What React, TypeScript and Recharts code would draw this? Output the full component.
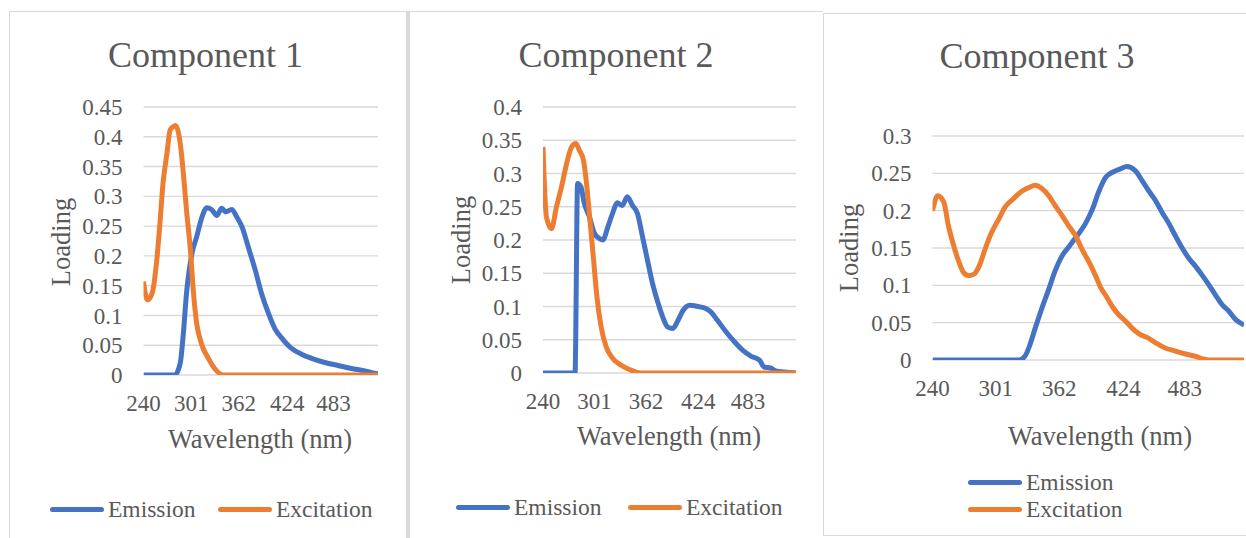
import { CartesianGrid, Line, LineChart, XAxis, YAxis } from 'recharts';

const FONT = '"Liberation Serif", "Times New Roman", serif';
const TEXT = '#595959';
const BLUE = '#4472C4';
const ORANGE = '#ED7D31';
const GRID = '#D9D9D9';

// x tick labels shared by the three panels
const xTicks = [240, 301, 362, 424, 483];
const yTicks1 = [0, 0.05, 0.1, 0.15, 0.2, 0.25, 0.3, 0.35, 0.4, 0.45];
const yTicks2 = [0, 0.05, 0.1, 0.15, 0.2, 0.25, 0.3, 0.35, 0.4];
const yTicks3 = [0, 0.05, 0.1, 0.15, 0.2, 0.25, 0.3];

// Component 1
const c1EmWl = [240, 280, 287, 291, 295, 302, 308, 315, 321, 327, 334, 340, 345, 353, 359, 366, 374, 383, 391, 400, 408, 417, 429, 442, 455, 472, 489, 506, 523, 532, 540];
const c1EmVal = [0, 0, 0.02, 0.07, 0.137, 0.204, 0.232, 0.266, 0.281, 0.278, 0.268, 0.28, 0.274, 0.278, 0.266, 0.249, 0.215, 0.176, 0.137, 0.103, 0.078, 0.062, 0.045, 0.035, 0.028, 0.021, 0.016, 0.011, 0.007, 0.004, 0.002];
const c1ExWl = [240, 245, 251, 257, 261, 265, 270, 274, 278, 281, 285, 288, 291, 295, 300, 304, 308, 314, 323, 331, 342, 540];
const c1ExVal = [0.157, 0.126, 0.137, 0.193, 0.254, 0.322, 0.372, 0.411, 0.417, 0.419, 0.405, 0.378, 0.338, 0.277, 0.21, 0.137, 0.087, 0.053, 0.028, 0.011, 0, 0];

// Component 2
const c2EmWl = [240, 278, 281, 285, 289, 295, 301, 307, 311, 317, 323, 328, 334, 340, 346, 352, 358, 364, 370, 376, 382, 388, 394, 400, 406, 414, 424, 433, 439, 447, 457, 467, 477, 487, 497, 502, 510, 516, 526, 540];
const c2EmVal = [0, 0, 0.285, 0.28, 0.255, 0.235, 0.21, 0.202, 0.2, 0.22, 0.242, 0.256, 0.252, 0.265, 0.252, 0.24, 0.205, 0.169, 0.134, 0.107, 0.084, 0.069, 0.067, 0.079, 0.094, 0.102, 0.1, 0.097, 0.092, 0.079, 0.062, 0.047, 0.034, 0.025, 0.019, 0.009, 0.0075, 0.003, 0.0015, 0];
const c2ExWl = [240, 244, 250, 256, 262, 268, 274, 279, 283, 288, 292, 296, 300, 304, 309, 315, 323, 333, 343, 350, 356, 540];
const c2ExVal = [0.34, 0.235, 0.217, 0.25, 0.28, 0.315, 0.34, 0.345, 0.335, 0.32, 0.28, 0.225, 0.17, 0.114, 0.069, 0.039, 0.0215, 0.0115, 0.005, 0.0015, 0, 0];

// Component 3
const c3EmWl = [240, 323, 329, 334, 339, 345, 352, 358, 365, 371, 378, 387, 394, 400, 407, 415, 421, 427, 435, 442, 448, 455, 461, 468, 474, 480, 487, 493, 500, 506, 513, 519, 525, 532, 540];
const c3EmVal = [0, 0, 0.005, 0.021, 0.043, 0.068, 0.095, 0.119, 0.14, 0.151, 0.164, 0.182, 0.202, 0.225, 0.245, 0.2525, 0.256, 0.259, 0.254, 0.24, 0.227, 0.213, 0.198, 0.182, 0.166, 0.151, 0.136, 0.126, 0.113, 0.101, 0.086, 0.074, 0.066, 0.054, 0.047];
const c3ExWl = [240, 245, 251, 255, 260, 265, 270, 275, 280, 285, 291, 297, 304, 310, 318, 326, 333, 339, 345, 352, 358, 365, 371, 378, 384, 390, 397, 402, 407, 413, 419, 426, 432, 439, 447, 455, 464, 474, 484, 493, 501, 506, 540];
const c3ExVal = [0.2, 0.22, 0.211, 0.182, 0.155, 0.133, 0.117, 0.113, 0.115, 0.126, 0.15, 0.171, 0.189, 0.205, 0.216, 0.226, 0.231, 0.234, 0.23, 0.22, 0.207, 0.193, 0.18, 0.166, 0.148, 0.133, 0.113, 0.097, 0.086, 0.072, 0.061, 0.052, 0.043, 0.035, 0.03, 0.023, 0.016, 0.012, 0.008, 0.005, 0.0013, 0, 0];

const toPoints = (wl: number[], val: number[]) => wl.map((w, i) => ({ wl: w, v: val[i] }));

type PanelProps = {
  left: number;
  width: number;
  margin: { top: number; right: number; bottom: number; left: number };
  yMax: number;
  yTicks: number[];
  emission: { wl: number; v: number }[];
  excitation: { wl: number; v: number }[];
};

function Panel({ left, width, margin, yMax, yTicks, emission, excitation }: PanelProps) {
  const tick = { fontFamily: FONT, fontSize: 23, fill: TEXT };
  return (
    <div style={{ position: 'absolute', left, top: 0 }}>
      <LineChart width={width} height={538} margin={margin}>
        <CartesianGrid vertical={false} stroke={GRID} strokeWidth={1.4} />
        <XAxis
          dataKey="wl"
          type="number"
          domain={[240, 540]}
          ticks={xTicks}
          interval={0}
          allowDataOverflow
          axisLine={false}
          tickLine={false}
          tickSize={0}
          tickMargin={20}
          height={30}
          tick={tick}
        />
        <YAxis
          type="number"
          domain={[0, yMax]}
          ticks={yTicks}
          interval={0}
          allowDataOverflow
          axisLine={false}
          tickLine={false}
          tickSize={0}
          tickMargin={21}
          width={60}
          tick={tick}
        />
        <Line data={emission} dataKey="v" name="Emission" type="monotone" stroke={BLUE} strokeWidth={5} dot={false} isAnimationActive={false} strokeLinejoin="round" />
        <Line data={excitation} dataKey="v" name="Excitation" type="monotone" stroke={ORANGE} strokeWidth={5} dot={false} isAnimationActive={false} strokeLinejoin="round" />
      </LineChart>
    </div>
  );
}

function Title({ text, cx, baseline }: { text: string; cx: number; baseline: number }) {
  const size = 36;
  return (
    <div style={{ position: 'absolute', left: cx - 150, width: 300, top: baseline - 0.8375 * size, textAlign: 'center', fontFamily: FONT, fontSize: size, lineHeight: `${size}px`, color: TEXT, whiteSpace: 'nowrap' }}>
      {text}
    </div>
  );
}

function XTitle({ cx, baseline }: { cx: number; baseline: number }) {
  const size = 26.5;
  return (
    <div style={{ position: 'absolute', left: cx - 120, width: 240, top: baseline - 0.8375 * size, textAlign: 'center', fontFamily: FONT, fontSize: size, lineHeight: `${size}px`, color: TEXT, whiteSpace: 'nowrap' }}>
      Wavelength (nm)
    </div>
  );
}

function YTitle({ cx, cy }: { cx: number; cy: number }) {
  return (
    <div style={{ position: 'absolute', left: cx - 70, top: cy - 15, width: 140, height: 30, lineHeight: '30px', textAlign: 'center', transform: 'rotate(-90deg)', fontFamily: FONT, fontSize: 26.5, color: TEXT, whiteSpace: 'nowrap' }}>
      Loading
    </div>
  );
}

function LegendItem({ left, cy, color, label }: { left: number; cy: number; color: string; label: string }) {
  return (
    <div style={{ position: 'absolute', left, top: cy - 15, height: 30, display: 'flex', alignItems: 'center', fontFamily: FONT, fontSize: 23.5, color: TEXT, whiteSpace: 'nowrap' }}>
      <div style={{ width: 54, height: 5, borderRadius: 3, background: color, marginRight: 4 }} />
      <span style={{ lineHeight: '30px' }}>{label}</span>
    </div>
  );
}

export default function App() {
  return (
    <div style={{ position: 'absolute', left: 0, top: 0, width: 1246, height: 538, overflow: 'hidden', background: '#fff' }}>
      {/* frames */}
      <div style={{ position: 'absolute', left: 9, top: 11, width: 814, height: 1, background: GRID }} />
      <div style={{ position: 'absolute', left: 9, top: 11, width: 1, height: 540, background: GRID }} />
      <div style={{ position: 'absolute', left: 406, top: 11, width: 4, height: 540, background: GRID }} />
      <div style={{ position: 'absolute', left: 823, top: 13, width: 440, height: 523, border: `1px solid ${GRID}`, boxSizing: 'border-box' }} />

      <Panel left={9} width={398} margin={{ top: 107, right: 29, bottom: 133, left: 74.5 }} yMax={0.45} yTicks={yTicks1} emission={toPoints(c1EmWl, c1EmVal)} excitation={toPoints(c1ExWl, c1ExVal)} />
      <Panel left={410} width={413} margin={{ top: 107, right: 27, bottom: 135, left: 73 }} yMax={0.4} yTicks={yTicks2} emission={toPoints(c2EmWl, c2EmVal)} excitation={toPoints(c2ExWl, c2ExVal)} />
      <Panel left={823} width={423} margin={{ top: 136, right: 2, bottom: 148, left: 49.5 }} yMax={0.3} yTicks={yTicks3} emission={toPoints(c3EmWl, c3EmVal)} excitation={toPoints(c3ExWl, c3ExVal)} />

      <Title text="Component 1" cx={205.5} baseline={67} />
      <Title text="Component 2" cx={616} baseline={67} />
      <Title text="Component 3" cx={1037} baseline={68.5} />

      <XTitle cx={260} baseline={448} />
      <XTitle cx={669} baseline={445.5} />
      <XTitle cx={1100} baseline={445.5} />

      <YTitle cx={61} cy={242} />
      <YTitle cx={461} cy={240} />
      <YTitle cx={849} cy={248} />

      <LegendItem left={50} cy={509} color={BLUE} label="Emission" />
      <LegendItem left={218} cy={509} color={ORANGE} label="Excitation" />
      <LegendItem left={456} cy={507} color={BLUE} label="Emission" />
      <LegendItem left={628} cy={507} color={ORANGE} label="Excitation" />
      <LegendItem left={968} cy={482} color={BLUE} label="Emission" />
      <LegendItem left={968} cy={509} color={ORANGE} label="Excitation" />
    </div>
  );
}
